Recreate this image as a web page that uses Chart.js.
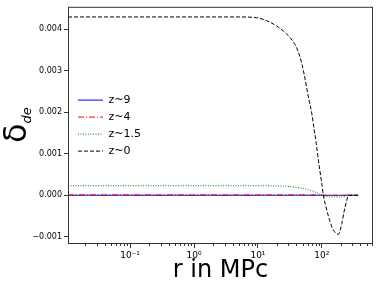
<!DOCTYPE html>
<html>
<head>
<meta charset="utf-8">
<script src="https://cdn.jsdelivr.net/npm/chart.js@4"></script>
<style>
  body { margin: 0; background: #fff; }
</style>
</head>
<body>
<canvas id="chart" width="379" height="288"></canvas>
<script>
// radius in MPc (shared x values)
const radii = [0.0107, 0.1, 1, 5, 9.6, 13.7, 19.7, 25, 31.8, 40.5, 48.5, 54.6, 61.5, 69.5, 75.5, 81, 90, 99.6, 105.6, 119.3, 134.4, 151.4, 181, 205, 222, 245, 260, 300, 368];

const labels = ['z~9', 'z~4', 'z~1.5', 'z~0'];

const deltaZ9 = [0, 0, 0, 0, 0, 0, 0, 0, 0, 0, 0, 0, 0, 0, 0, 0, 0, 0, 0, 0, 0, 0, 0, 0, 0, 0, 0, 0, 0];
const deltaZ4 = [0.00001, 0.00001, 0.00001, 0.00001, 0.00001, 0.00001, 0.00001, 0.00001, 0.00001, 0.00001, 0.00001, 0.00001, 0.00001, 0.00001, 0.00001, 0.00001, 0.00001, 0.000005, 0, 0, 0, 0, 0, 0, 0, 0, 0, 0, 0];
const deltaZ15 = [0.00023, 0.00023, 0.00023, 0.00023, 0.00023, 0.000228, 0.000225, 0.00022, 0.00021, 0.00019, 0.000175, 0.00016, 0.00013, 0.00011, 0.00009, 0.00007, 0.00004, 0.00001, -0.00001, -0.00003, -0.00004, -0.00004, -0.00004, -0.00004, -0.00003, -0.00001, 0, 0, 0];
const deltaZ0 = [0.0043, 0.0043, 0.0043, 0.0043, 0.00428, 0.00421, 0.00408, 0.00396, 0.00380, 0.00355, 0.00318, 0.00280, 0.00237, 0.00197, 0.00160, 0.00128, 0.00075, 0.00028, 0, -0.00036, -0.00064, -0.00084, -0.00094, -0.00068, -0.0004, -0.00012, 0, 0, 0];

const xTicks = [0.1, 1, 10, 100];
const xTickLabels = ['10\u207B\u00B9', '10\u2070', '10\u00B9', '10\u00B2'];
const yTicks = [-0.001, 0, 0.001, 0.002, 0.003, 0.004];

const FONT = "'DejaVu Sans', sans-serif";

function points(values) {
    return radii.map((r, i) => ({ x: r, y: values[i] }));
}

function makeSet(label, values, color, dash, order) {
    return {
        label: label,
        data: points(values),
        borderColor: color,
        backgroundColor: color,
        borderWidth: 1,
        borderDash: dash,
        pointRadius: 0,
        cubicInterpolationMode: 'monotone',
        fill: false,
        order: order
    };
}

// nudge the legend into the spot matplotlib used
const legendShift = {
    id: 'legendShift',
    afterLayout(chart) {
        const lg = chart.legend;
        lg.left += 4; lg.right += 4;
        lg.top += 7; lg.bottom += 7;
    }
};

// frame, minor log ticks and the y axis title
const extras = {
    id: 'extras',
    afterDraw(chart) {
        const ctx = chart.ctx;
        const a = chart.chartArea;
        const xs = chart.scales.x;
        ctx.save();
        ctx.strokeStyle = '#333';
        ctx.lineWidth = 1;
        ctx.strokeRect(a.left + 0.5, a.top + 0.5, a.right - a.left - 1, a.bottom - a.top - 1);

        ctx.beginPath();
        for (let e = -2; e <= 2; e++) {
            for (let m = 2; m <= 9; m++) {
                const v = m * Math.pow(10, e);
                if (v < xs.min || v > xs.max) continue;
                const px = Math.round(xs.getPixelForValue(v)) + 0.5;
                ctx.moveTo(px, a.bottom);
                ctx.lineTo(px, a.bottom + 2);
            }
        }
        ctx.stroke();

        ctx.fillStyle = '#000';
        ctx.translate(26, 143);
        ctx.rotate(-Math.PI / 2);
        ctx.textBaseline = 'alphabetic';
        ctx.font = '32px ' + FONT;
        ctx.fillText('\u03B4', 0, 0);
        const w = ctx.measureText('\u03B4').width;
        ctx.font = 'italic 13px ' + FONT;
        ctx.fillText('de', w, 5);
        ctx.restore();
    }
};

const ctx = document.getElementById('chart').getContext('2d');
const chart = new Chart(ctx, {
    type: 'line',
    data: {
        datasets: [
            makeSet(labels[0], deltaZ9, '#0000ff', [], 4),
            makeSet(labels[1], deltaZ4, '#ff0000', [6, 2, 1, 2], 3),
            makeSet(labels[2], deltaZ15, '#008000', [1, 1.5], 2),
            makeSet(labels[3], deltaZ0, '#000000', [4, 2], 1)
        ]
    },
    options: {
        responsive: false,
        animation: false,
        layout: { padding: { top: 6, right: 6, left: 0, bottom: 0 } },
        plugins: {
            tooltip: { enabled: false },
            legend: {
                position: 'chartArea',
                align: 'center',
                labels: {
                    usePointStyle: true,
                    pointStyle: 'line',
                    pointStyleWidth: 25,
                    boxHeight: 8,
                    padding: 6,
                    color: '#000',
                    font: { family: FONT, size: 11 },
                    sort: (a, b) => a.datasetIndex - b.datasetIndex,
                    generateLabels: function(chart) {
                        const items = Chart.defaults.plugins.legend.labels.generateLabels(chart);
                        items.forEach(item => {
                            const ds = chart.data.datasets[item.datasetIndex];
                            item.lineDash = ds.borderDash;
                            item.strokeStyle = ds.borderColor;
                            item.lineWidth = 1;
                        });
                        return items;
                    }
                }
            }
        },
        scales: {
            x: {
                type: 'logarithmic',
                min: 0.0107,
                max: 630,
                afterBuildTicks: function(scale) {
                    scale.ticks = xTicks.map(v => ({ value: v }));
                },
                afterFit: function(scale) {
                    scale.height = 44;
                },
                grid: { drawOnChartArea: false, tickLength: 4, tickColor: '#333' },
                border: { display: false },
                ticks: {
                    padding: 2,
                    color: '#000',
                    maxRotation: 0,
                    autoSkip: false,
                    font: { family: FONT, size: 9 },
                    callback: function(value) {
                        const i = xTicks.indexOf(value);
                        return i >= 0 ? xTickLabels[i] : '';
                    }
                },
                title: {
                    display: true,
                    text: 'r in MPc',
                    color: '#000',
                    font: { family: FONT, size: 24 },
                    padding: { top: 0, bottom: 3 }
                }
            },
            y: {
                min: -0.001175,
                max: 0.004545,
                afterBuildTicks: function(scale) {
                    scale.ticks = yTicks.map(v => ({ value: v }));
                },
                afterFit: function(scale) {
                    scale.width = 68;
                },
                grid: { drawOnChartArea: false, tickLength: 4, tickColor: '#333' },
                border: { display: false },
                ticks: {
                    padding: 2,
                    color: '#000',
                    font: { family: FONT, size: 8 },
                    callback: function(value) {
                        const s = Math.abs(value).toFixed(3);
                        return value < -1e-9 ? '\u2212' + s : s;
                    }
                }
            }
        }
    },
    plugins: [legendShift, extras]
});
</script>
</body>
</html>
